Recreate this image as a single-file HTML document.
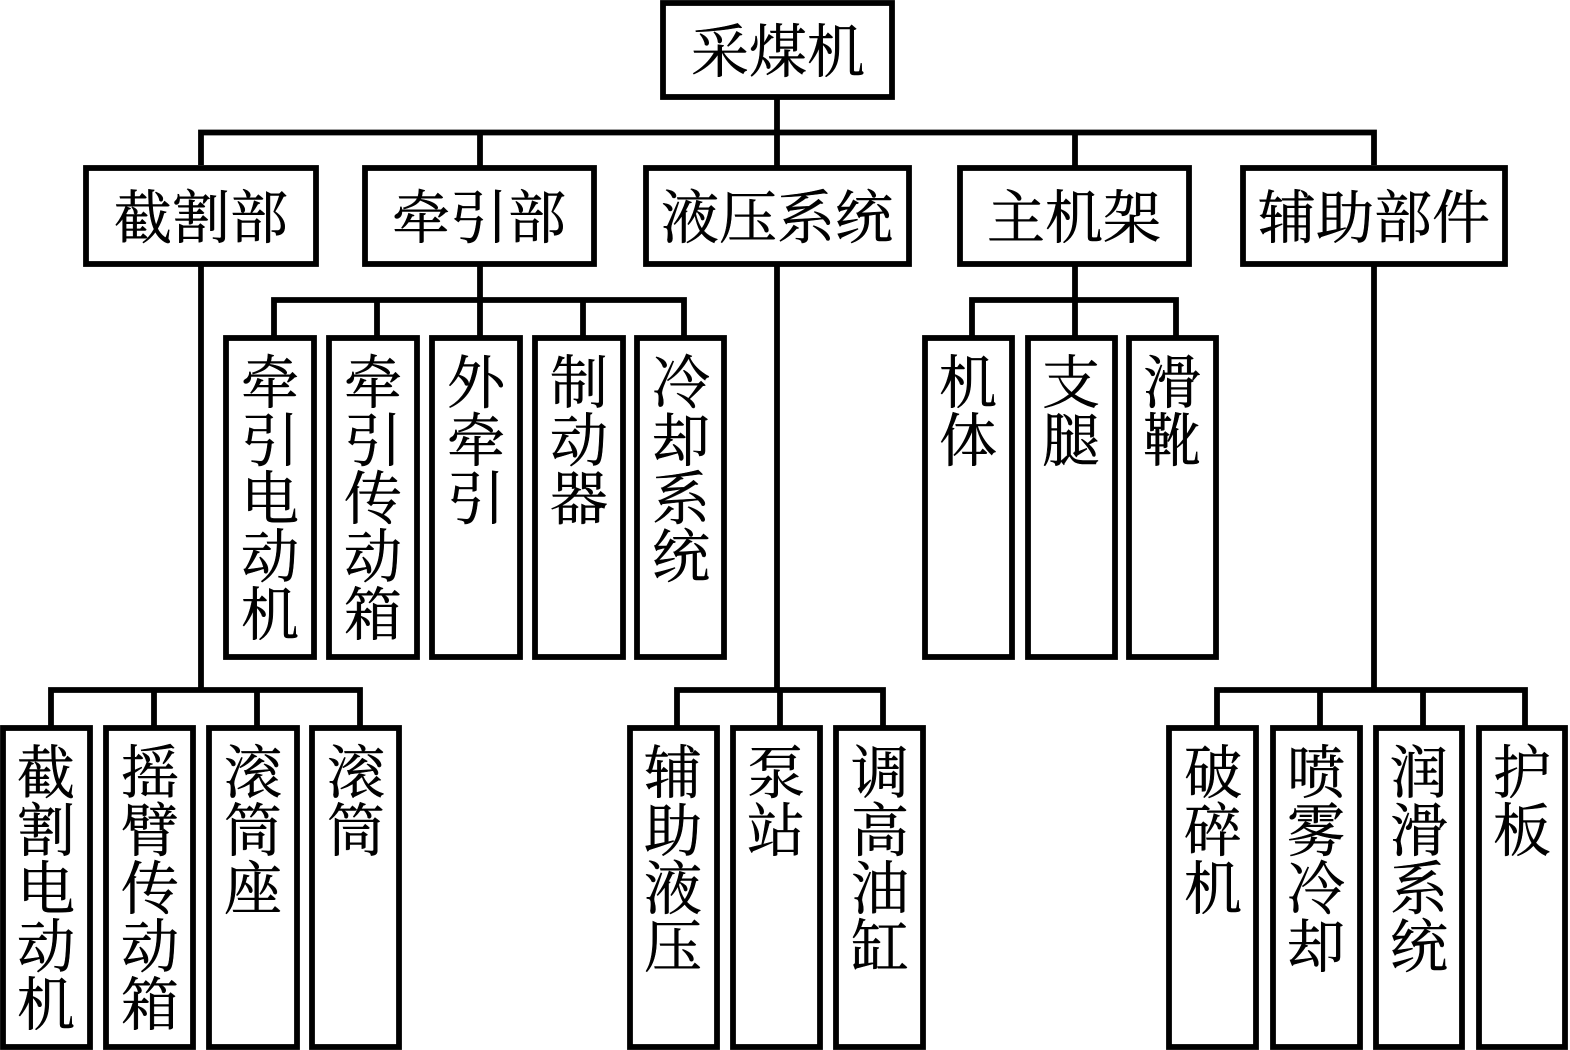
<!DOCTYPE html>
<html><head><meta charset="utf-8"><style>
html,body{margin:0;padding:0;background:#fff;width:1570px;height:1050px;overflow:hidden}
svg{display:block}
rect{fill:#fff;stroke:#000;stroke-width:5.8}
path{fill:none;stroke:#000;stroke-width:5.8}
text{font-family:"Liberation Serif","Noto Serif CJK SC",serif;font-size:58px;fill:#000;stroke:#000;stroke-width:.5;text-anchor:middle}
</style></head><body>
<svg width="1570" height="1050" viewBox="0 0 1570 1050" xmlns="http://www.w3.org/2000/svg">
<path d="M777 97V167M201 165V132.500H1374V165M480 132V167M1075 132V167
M201 265V690M480 265V340M777 265V690M1075 265V340M1374 265V690
M274 340V300H684V340M377 300V340M480 300V340M583 300V340
M972 340V300H1176V340
M51 729V690H360V729M154 690V729M257 690V729
M677 729V690H883V729M780 690V729
M1217 729V690H1525V729M1320 690V729M1423 690V729"/>
<rect x="663" y="3" width="229" height="94"/>
<rect x="86" y="168" width="230" height="96"/>
<rect x="365" y="168" width="229" height="96"/>
<rect x="646" y="168" width="263" height="96"/>
<rect x="960" y="168" width="229" height="96"/>
<rect x="1243" y="168" width="262" height="96"/>
<rect x="226" y="338" width="88" height="319"/>
<rect x="329" y="338" width="88" height="319"/>
<rect x="432" y="338" width="88" height="319"/>
<rect x="535" y="338" width="88" height="319"/>
<rect x="637" y="338" width="87" height="319"/>
<rect x="925" y="338" width="87" height="319"/>
<rect x="1028" y="338" width="87" height="319"/>
<rect x="1129" y="338" width="87" height="319"/>
<rect x="3" y="728" width="87" height="319"/>
<rect x="106" y="728" width="87" height="319"/>
<rect x="209" y="728" width="88" height="319"/>
<rect x="312" y="728" width="87" height="319"/>
<rect x="630" y="728" width="87" height="319"/>
<rect x="733" y="728" width="87" height="319"/>
<rect x="836" y="728" width="87" height="319"/>
<rect x="1169" y="728" width="87" height="319"/>
<rect x="1273" y="728" width="87" height="319"/>
<rect x="1376" y="728" width="86" height="319"/>
<rect x="1479" y="728" width="86" height="319"/>
<text x="778" y="72">采煤机</text>
<text x="201" y="238">截割部</text>
<text x="479" y="238">牵引部</text>
<text x="777" y="238">液压系统</text>
<text x="1074" y="238">主机架</text>
<text x="1374" y="238">辅助部件</text>
<text x="270 270 270 270 270" y="403 461 519 577 635">牵引电动机</text>
<text x="373 373 373 373 373" y="403 461 519 577 635">牵引传动箱</text>
<text x="476 476 476" y="403 461 519">外牵引</text>
<text x="579 579 579" y="403 461 519">制动器</text>
<text x="681 681 681 681" y="403 461 519 577">冷却系统</text>
<text x="968 968" y="403 461">机体</text>
<text x="1071 1071" y="403 461">支腿</text>
<text x="1172 1172" y="403 461">滑靴</text>
<text x="46 46 46 46 46" y="793 851 909 967 1025">截割电动机</text>
<text x="150 150 150 150 150" y="793 851 909 967 1025">摇臂传动箱</text>
<text x="253 253 253" y="793 851 909">滚筒座</text>
<text x="356 356" y="793 851">滚筒</text>
<text x="673 673 673 673" y="793 851 909 967">辅助液压</text>
<text x="776 776" y="793 851">泵站</text>
<text x="880 880 880 880" y="793 851 909 967">调高油缸</text>
<text x="1213 1213 1213" y="793 851 909">破碎机</text>
<text x="1316 1316 1316 1316" y="793 851 909 967">喷雾冷却</text>
<text x="1419 1419 1419 1419" y="793 851 909 967">润滑系统</text>
<text x="1522 1522" y="793 851">护板</text>
</svg>
</body></html>
